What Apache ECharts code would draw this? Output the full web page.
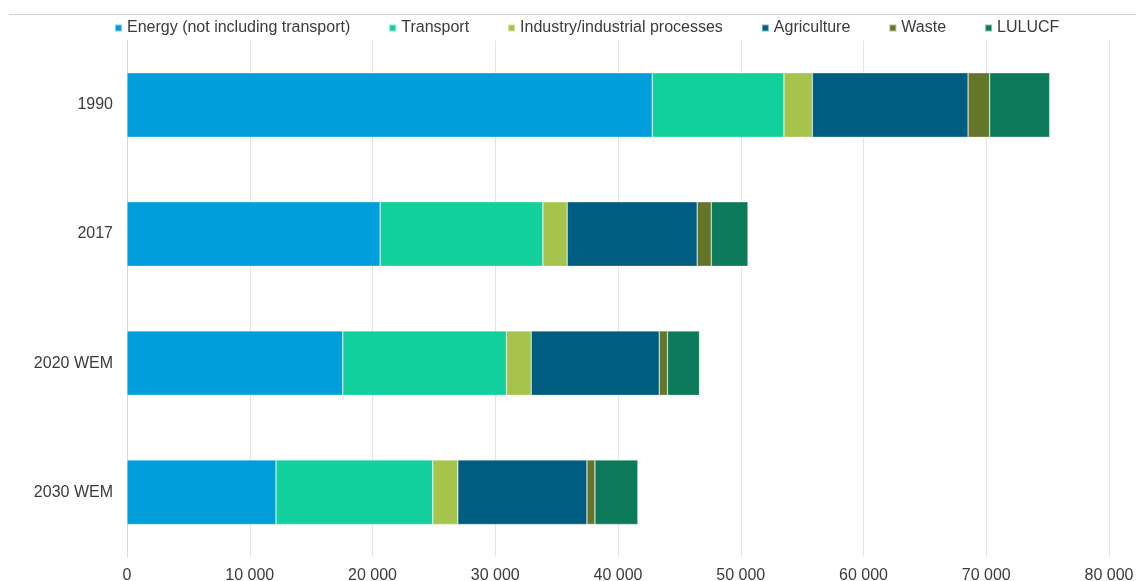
<!DOCTYPE html>
<html>
<head>
<meta charset="utf-8">
<script src="https://cdn.jsdelivr.net/npm/echarts@6/dist/echarts.min.js"></script>
<style>
html,body{margin:0;padding:0;background:#fff;}
#chart{width:1136px;height:581px;}
</style>
</head>
<body>
<div id="chart"></div>
<script>
const categories = ['1990', '2017', '2020 WEM', '2030 WEM'];
const seriesNames = ['Energy (not including transport)', 'Transport', 'Industry/industrial processes', 'Agriculture', 'Waste', 'LULUCF'];
const energy      = [42790, 20620, 17580, 12140];
const transport   = [10730, 13260, 13330, 12770];
const industry    = [2310, 1980, 2020, 2040];
const agriculture = [12690, 10590, 10430, 10520];
const waste       = [1760, 1150, 670, 650];
const lulucf      = [4890, 2990, 2610, 3500];
const xTicks = [0, 10000, 20000, 30000, 40000, 50000, 60000, 70000, 80000];

const values = [energy, transport, industry, agriculture, waste, lulucf];
const colors = ['#009EDB', '#12D09C', '#A6C34B', '#005D82', '#657529', '#0C7A5B'];

const chart = echarts.init(document.getElementById('chart'), null, {renderer: 'canvas'});
const font = 'Liberation Sans, Arial, sans-serif';

chart.setOption({
  animation: false,
  backgroundColor: '#ffffff',
  graphic: [{
    type: 'line',
    shape: {x1: 9, y1: 14.5, x2: 1136, y2: 14.5},
    style: {stroke: '#d0d0d0', lineWidth: 1}
  }],
  legend: {
    left: 109,
    top: 15,
    itemWidth: 7,
    itemHeight: 7,
    itemGap: 38,
    icon: 'rect',
    textStyle: {fontFamily: font, fontSize: 16, color: '#3b3b3b'},
    data: seriesNames
  },
  grid: {left: 127, right: 27, top: 40.5, bottom: 24.3, containLabel: false, outerBoundsMode: 'none'},
  xAxis: {
    type: 'value',
    min: xTicks[0],
    max: xTicks[xTicks.length - 1],
    interval: 10000,
    axisLine: {show: false},
    axisTick: {show: false},
    splitLine: {show: true, lineStyle: {color: '#e4e4e4', width: 1}},
    axisLabel: {
      fontFamily: font, fontSize: 16, color: '#3b3b3b', margin: 11,
      formatter: v => String(v).replace(/\B(?=(\d{3})+(?!\d))/g, ' ')
    }
  },
  yAxis: {
    type: 'category',
    inverse: true,
    data: categories,
    axisLine: {show: true, lineStyle: {color: '#d9d9d9', width: 1}},
    axisTick: {show: false},
    axisLabel: {fontFamily: font, fontSize: 16, color: '#3b3b3b', margin: 14}
  },
  series: seriesNames.map((name, i) => ({
    name: name,
    type: 'bar',
    stack: 'total',
    barCategoryGap: '50%',
    data: values[i],
    itemStyle: {color: colors[i], borderColor: 'rgba(255,255,255,0.5)', borderWidth: 0.6},
    emphasis: {disabled: true}
  }))
});
</script>
</body>
</html>
